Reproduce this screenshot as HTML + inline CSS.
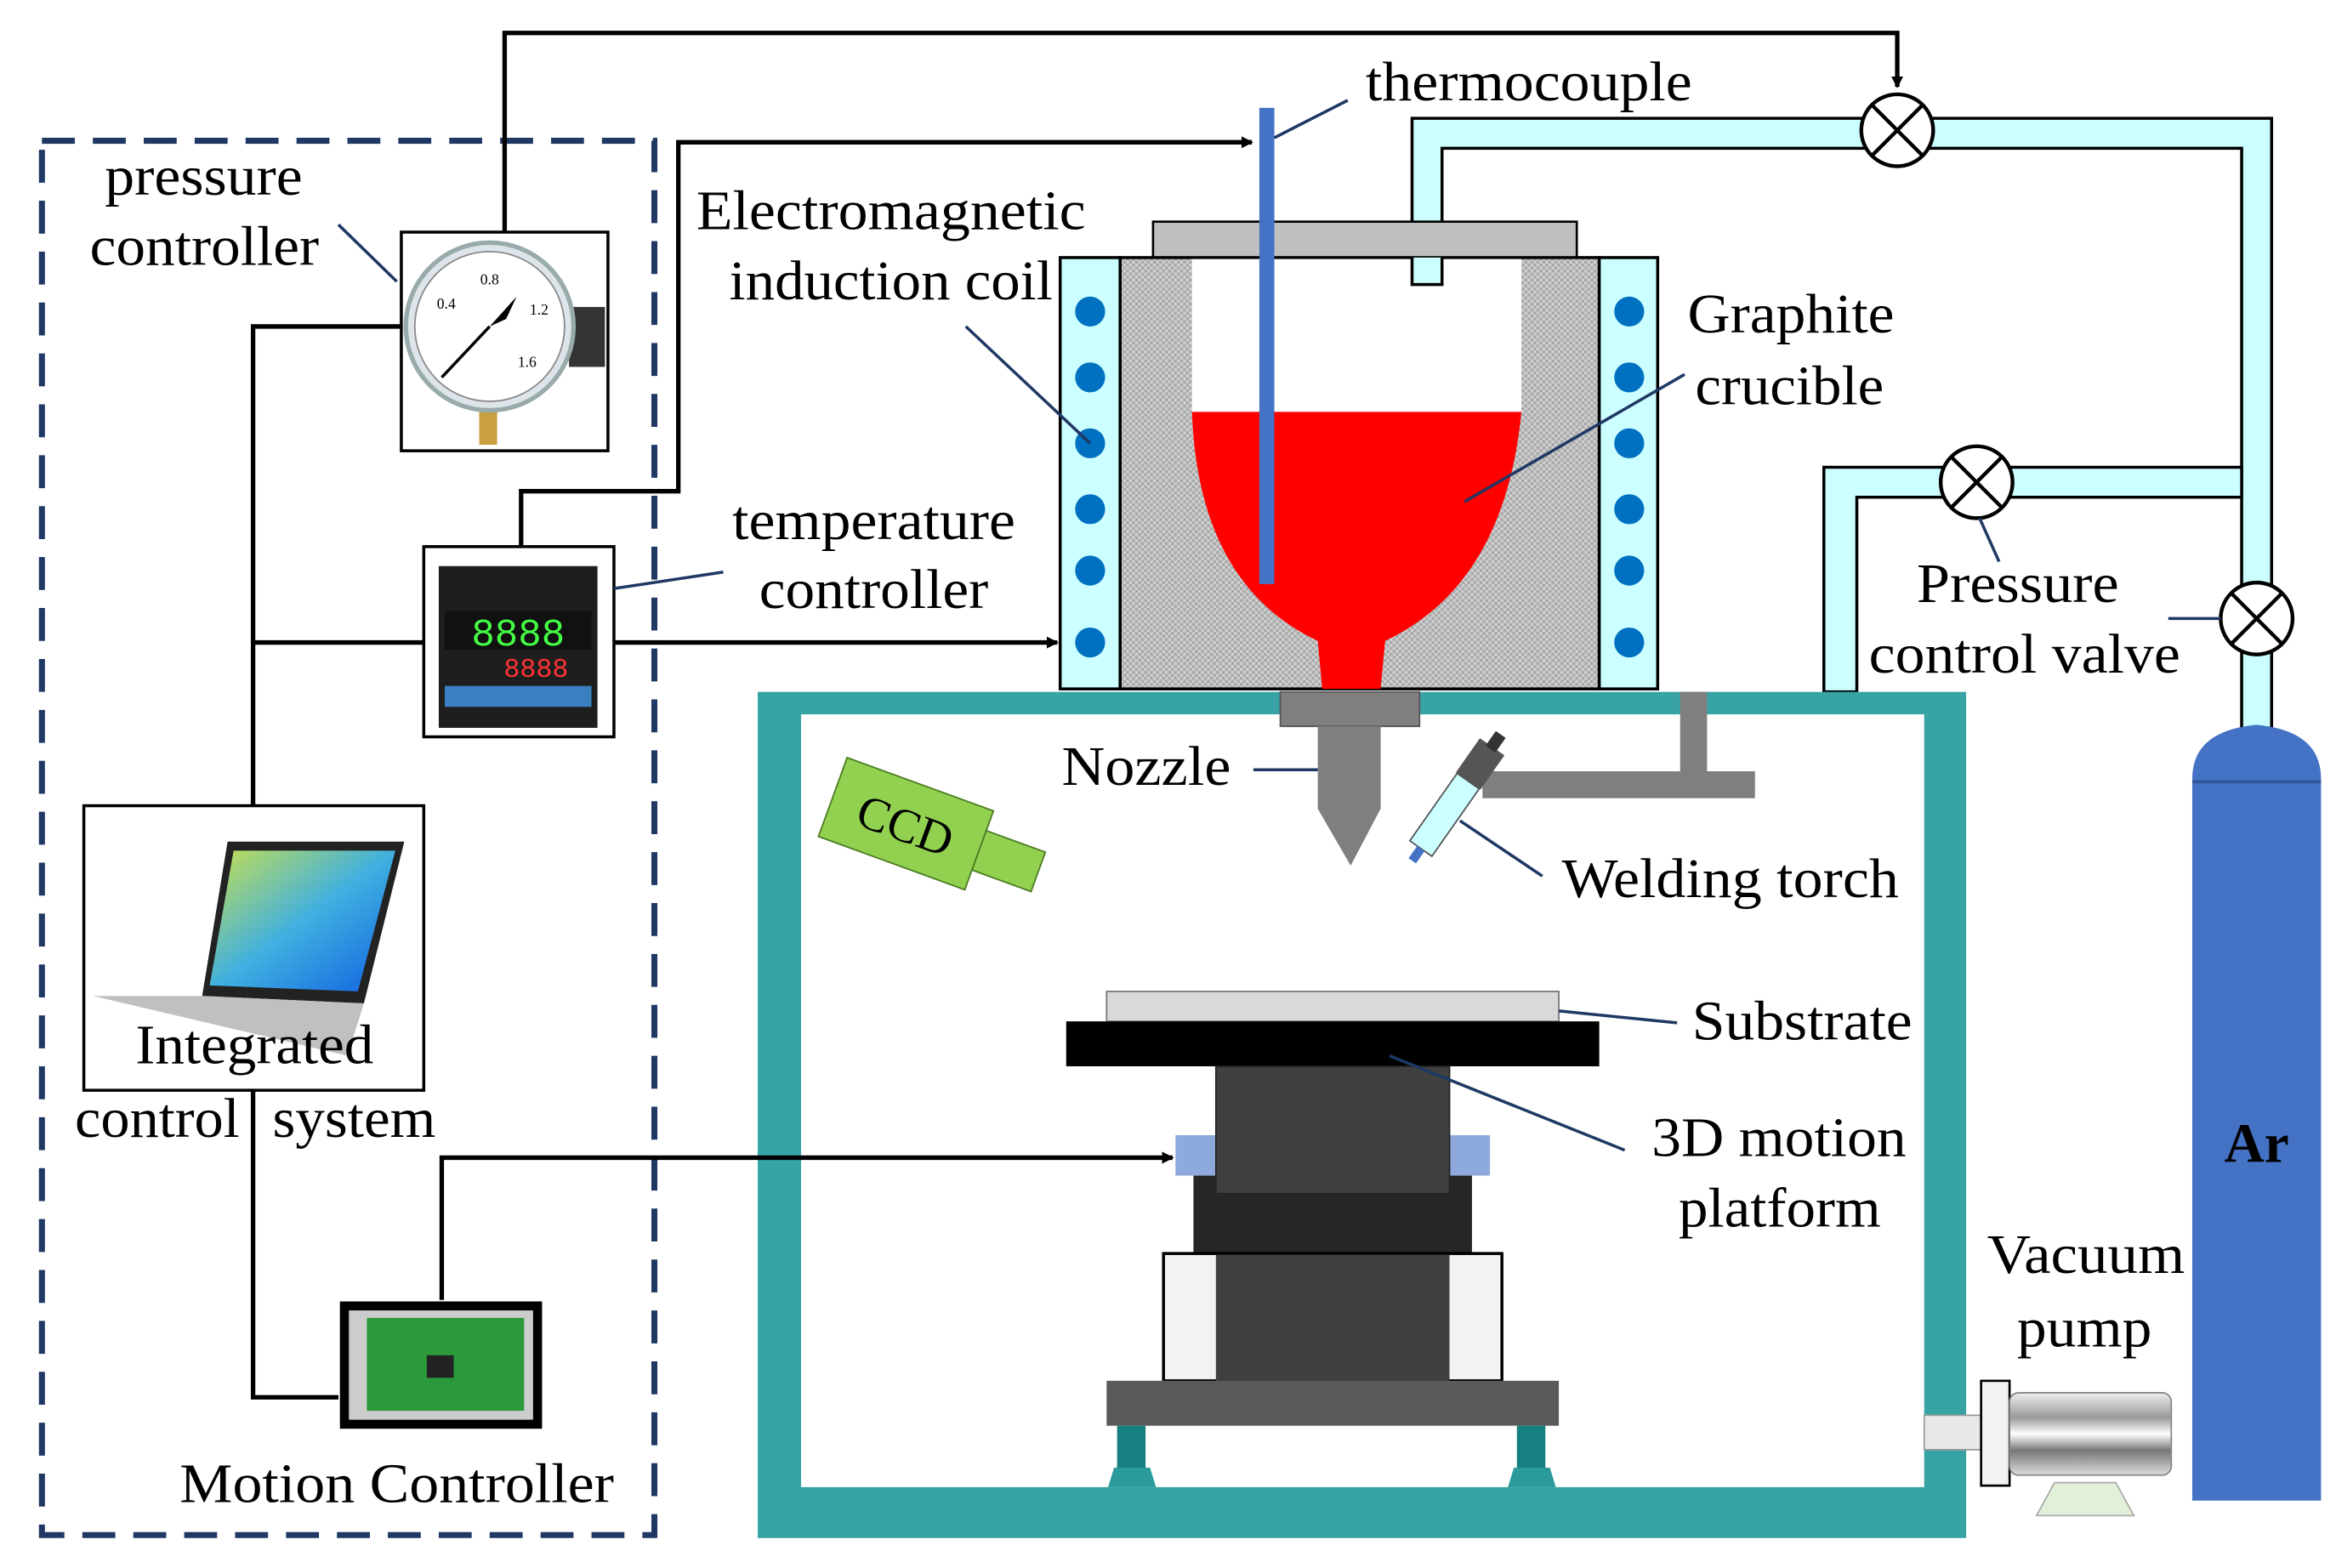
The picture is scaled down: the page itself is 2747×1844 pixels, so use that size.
<!DOCTYPE html>
<html><head><meta charset="utf-8"><style>
html,body{margin:0;padding:0;background:#fff;}
svg{display:block;}
text{font-family:"Liberation Serif",serif;font-size:37px;fill:#000;}
</style></head><body>
<svg width="2747" height="1844" viewBox="0 0 1560 1047" preserveAspectRatio="none" xmlns="http://www.w3.org/2000/svg">
<defs>
<pattern id="hat" width="4" height="4" patternUnits="userSpaceOnUse">
<rect width="4" height="4" fill="#d0d0d0"/><rect width="2" height="2" fill="#a8a8a8"/><rect x="2" y="2" width="2" height="2" fill="#a8a8a8"/>
</pattern>
<marker id="ar" markerWidth="8" markerHeight="8" refX="7" refY="4" orient="auto" markerUnits="userSpaceOnUse" viewBox="0 0 8 8"><path d="M0,0 L8,4 L0,8z" fill="#000"/></marker>
<linearGradient id="scr" x1="0" y1="0" x2="1" y2="1"><stop offset="0" stop-color="#c8e050"/><stop offset="0.5" stop-color="#40b0e0"/><stop offset="1" stop-color="#1060e0"/></linearGradient>
<linearGradient id="pump" x1="0" y1="0" x2="0" y2="1"><stop offset="0" stop-color="#eee"/><stop offset="0.3" stop-color="#999"/><stop offset="0.5" stop-color="#fff"/><stop offset="0.7" stop-color="#777"/><stop offset="1" stop-color="#ddd"/></linearGradient>
</defs>

<rect x="28" y="94" width="409" height="931" fill="none" stroke="#1f3864" stroke-width="4" stroke-dasharray="22,12"/>

<g fill="none" stroke="#000" stroke-width="3">
<polyline points="337,155 337,22 1267,22 1267,58" marker-end="url(#ar)"/>
<polyline points="348,365 348,328 453,328 453,95 836,95" marker-end="url(#ar)"/>
<polyline points="268,218 169,218 169,538"/>
<line x1="169" y1="429" x2="283" y2="429"/>
<line x1="410" y1="429" x2="706" y2="429" marker-end="url(#ar)"/>
<polyline points="169,728 169,933 226,933"/>
</g>

<rect x="268" y="155" width="138" height="146" fill="#fff" stroke="#000" stroke-width="2"/>
<rect x="380" y="205" width="24" height="40" fill="#333"/>
<rect x="320" y="272" width="12" height="25" fill="#c8a040"/>
<circle cx="327" cy="218" r="56" fill="#dde4ea" stroke="#9aa" stroke-width="3"/>
<circle cx="327" cy="218" r="50" fill="#fff" stroke="#888" stroke-width="1"/>
<line x1="327" y1="218" x2="295" y2="252" stroke="#000" stroke-width="2"/>
<path d="M327,218 L345,198 L338,213z" fill="#000"/>
<text x="327" y="190" text-anchor="middle" style="font-size:10px">0.8</text>
<text x="298" y="206" text-anchor="middle" style="font-size:10px">0.4</text>
<text x="360" y="210" text-anchor="middle" style="font-size:10px">1.2</text>
<text x="352" y="245" text-anchor="middle" style="font-size:10px">1.6</text>

<rect x="283" y="365" width="127" height="127" fill="#fff" stroke="#000" stroke-width="2"/>
<rect x="293" y="378" width="106" height="108" fill="#1e1e1e"/>
<rect x="297" y="408" width="98" height="26" fill="#111"/>
<text x="346" y="431" text-anchor="middle" style="font-size:26px;fill:#4f4;font-family:'Liberation Mono',monospace">8888</text>
<text x="358" y="452" text-anchor="middle" style="font-size:18px;fill:#f33;font-family:'Liberation Mono',monospace">8888</text>
<rect x="297" y="458" width="98" height="14" fill="#3a7fc0"/>

<rect x="56" y="538" width="227" height="190" fill="#fff" stroke="#000" stroke-width="2"/>
<path d="M152,562 L270,562 L243,670 L135,665z" fill="#222"/>
<path d="M156,568 L264,568 L239,662 L140,658z" fill="url(#scr)"/>
<path d="M135,665 L243,670 L232,705 L62,665z" fill="#c0c0c0"/>
<text x="170" y="710" text-anchor="middle" textLength="159" lengthAdjust="spacingAndGlyphs">Integrated</text>
<text x="50" y="759" textLength="110" lengthAdjust="spacingAndGlyphs">control</text>
<text x="182" y="759" textLength="109" lengthAdjust="spacingAndGlyphs">system</text>

<rect x="227" y="869" width="135" height="85" fill="#000"/>
<rect x="233" y="875" width="123" height="73" fill="#ccc"/>
<rect x="245" y="880" width="105" height="62" fill="#2a9a3a"/>
<rect x="285" y="905" width="18" height="15" fill="#222"/>
<text x="120" y="1003" textLength="290" lengthAdjust="spacingAndGlyphs">Motion Controller</text>

<g fill="#ccffff" stroke="#000" stroke-width="2">
<path d="M943,190 L943,79 L1517,79 L1517,495 L1497,495 L1497,99 L963,99 L963,190z"/>
<path d="M1218,462 L1218,312 L1497,312 L1497,332 L1240,332 L1240,462z"/>
</g>

<path d="M1464,1002 L1464,520 Q1464,488 1507,484 Q1550,488 1550,520 L1550,1002z" fill="#4472c4"/>
<line x1="1464" y1="522" x2="1550" y2="522" stroke="#2f5597" stroke-width="2"/>
<text x="1507" y="776" text-anchor="middle" style="font-weight:bold">Ar</text>

<g fill="#fff" stroke="#000" stroke-width="2.5">
<circle cx="1267" cy="87" r="24"/><path d="M1250,70 L1284,104 M1284,70 L1250,104"/>
<circle cx="1320" cy="322" r="24"/><path d="M1303,305 L1337,339 M1337,305 L1303,339"/>
<circle cx="1507" cy="413" r="24"/><path d="M1490,396 L1524,430 M1524,396 L1490,430"/>
</g>

<rect x="506" y="462" width="807" height="565" fill="#38a3a5"/>
<rect x="535" y="477" width="750" height="516" fill="#fff"/>

<rect x="770" y="148" width="283" height="24" fill="#bfbfbf" stroke="#000" stroke-width="1.5"/>
<rect x="748" y="172" width="320" height="288" fill="url(#hat)" stroke="#000" stroke-width="2"/>
<rect x="796" y="173" width="220" height="102" fill="#fff"/>
<path d="M943,172 L943,190 L963,190 L963,172" fill="#ccffff" stroke="#000" stroke-width="2"/>
<path d="M796,275 L1016,275 Q1005,390 925,428 L922,460 L883,460 L880,428 Q800,390 796,275z" fill="#ff0000"/>
<rect x="708" y="172" width="40" height="288" fill="#ccffff" stroke="#000" stroke-width="2"/>
<rect x="1068" y="172" width="39" height="288" fill="#ccffff" stroke="#000" stroke-width="2"/>
<g fill="#0070c0">
<circle cx="728" cy="208" r="10"/><circle cx="728" cy="252" r="10"/><circle cx="728" cy="296" r="10"/><circle cx="728" cy="340" r="10"/><circle cx="728" cy="381" r="10"/><circle cx="728" cy="429" r="10"/>
<circle cx="1088" cy="208" r="10"/><circle cx="1088" cy="252" r="10"/><circle cx="1088" cy="296" r="10"/><circle cx="1088" cy="340" r="10"/><circle cx="1088" cy="381" r="10"/><circle cx="1088" cy="429" r="10"/>
</g>
<rect x="841" y="72" width="10" height="318" fill="#4472c4"/>

<rect x="855" y="462" width="93" height="23" fill="#7f7f7f" stroke="#555" stroke-width="1"/>
<rect x="880" y="485" width="42" height="55" fill="#7f7f7f"/>
<path d="M880,540 L922,540 L902,578z" fill="#7f7f7f"/>
<rect x="1122" y="462" width="18" height="55" fill="#7f7f7f"/>
<rect x="990" y="515" width="182" height="18" fill="#7f7f7f"/>
<g transform="translate(985,515) rotate(35)">
<rect x="-10" y="-20" width="20" height="28" fill="#555"/>
<rect x="-4" y="-30" width="8" height="12" fill="#333"/>
<rect x="-9" y="8" width="18" height="55" fill="#ccffff" stroke="#555" stroke-width="1"/>
<rect x="-3" y="63" width="6" height="10" fill="#4472c4"/>
</g>

<g transform="translate(605,550) rotate(20)">
<rect x="-52" y="-28" width="104" height="56" fill="#92d050" stroke="#4a7a20" stroke-width="1"/>
<rect x="52" y="-14" width="42" height="28" fill="#92d050" stroke="#4a7a20" stroke-width="1"/>
<text x="0" y="12" text-anchor="middle" style="font-size:32px">CCD</text>
</g>

<rect x="739" y="662" width="302" height="20" fill="#d9d9d9" stroke="#777" stroke-width="1"/>
<rect x="712" y="682" width="356" height="30" fill="#000"/>
<rect x="785" y="758" width="210" height="27" fill="#8ea9db"/>
<rect x="797" y="785" width="186" height="52" fill="#262626"/>
<rect x="812" y="712" width="156" height="85" fill="#404040" stroke="#222" stroke-width="1"/>
<rect x="777" y="837" width="226" height="85" fill="#f2f2f2" stroke="#000" stroke-width="2"/>
<rect x="812" y="838" width="156" height="84" fill="#404040"/>
<rect x="739" y="922" width="302" height="30" fill="#595959"/>
<rect x="746" y="952" width="19" height="33" fill="#168080"/>
<rect x="1013" y="952" width="19" height="33" fill="#168080"/>
<path d="M740,993 L744,980 L768,980 L772,993z" fill="#2a9a9a"/>
<path d="M1007,993 L1011,980 L1035,980 L1039,993z" fill="#2a9a9a"/>

<polyline points="295,868 295,773 783,773" fill="none" stroke="#000" stroke-width="3" marker-end="url(#ar)"/>

<rect x="1285" y="945" width="40" height="23" fill="#e8e8e8" stroke="#999" stroke-width="1"/>
<rect x="1323" y="922" width="19" height="70" fill="#f2f2f2" stroke="#000" stroke-width="1.5"/>
<rect x="1342" y="930" width="108" height="55" rx="6" fill="url(#pump)" stroke="#888" stroke-width="1"/>
<path d="M1372,990 L1413,990 L1425,1012 L1360,1012z" fill="#e2f0d9" stroke="#aaa" stroke-width="1"/>

<g stroke="#1f3864" stroke-width="2" fill="none">
<line x1="226" y1="150" x2="265" y2="188"/>
<line x1="645" y1="218" x2="728" y2="296"/>
<line x1="851" y1="92" x2="900" y2="67"/>
<line x1="1125" y1="250" x2="978" y2="335"/>
<line x1="410" y1="393" x2="483" y2="382"/>
<line x1="837" y1="514" x2="880" y2="514"/>
<line x1="1030" y1="585" x2="975" y2="548"/>
<line x1="1041" y1="675" x2="1120" y2="683"/>
<line x1="928" y1="705" x2="1085" y2="768"/>
<line x1="1322" y1="346" x2="1335" y2="375"/>
<line x1="1448" y1="413" x2="1483" y2="413"/>
</g>

<text x="70" y="130" textLength="132" lengthAdjust="spacingAndGlyphs">pressure</text>
<text x="60" y="177" textLength="153" lengthAdjust="spacingAndGlyphs">controller</text>
<text x="465" y="153" textLength="260" lengthAdjust="spacingAndGlyphs">Electromagnetic</text>
<text x="487" y="200" textLength="216" lengthAdjust="spacingAndGlyphs">induction coil</text>
<text x="912" y="67" textLength="218" lengthAdjust="spacingAndGlyphs">thermocouple</text>
<text x="1127" y="222" textLength="138" lengthAdjust="spacingAndGlyphs">Graphite</text>
<text x="1132" y="270" textLength="126" lengthAdjust="spacingAndGlyphs">crucible</text>
<text x="489" y="360" textLength="189" lengthAdjust="spacingAndGlyphs">temperature</text>
<text x="507" y="406" textLength="153" lengthAdjust="spacingAndGlyphs">controller</text>
<text x="709" y="524" textLength="113" lengthAdjust="spacingAndGlyphs">Nozzle</text>
<text x="1043" y="599" textLength="225" lengthAdjust="spacingAndGlyphs">Welding torch</text>
<text x="1130" y="694" textLength="147" lengthAdjust="spacingAndGlyphs">Substrate</text>
<text x="1103" y="772" textLength="170" lengthAdjust="spacingAndGlyphs">3D motion</text>
<text x="1121" y="819" textLength="135" lengthAdjust="spacingAndGlyphs">platform</text>
<text x="1280" y="402" textLength="135" lengthAdjust="spacingAndGlyphs">Pressure</text>
<text x="1248" y="449" textLength="208" lengthAdjust="spacingAndGlyphs">control valve</text>
<text x="1327" y="850" textLength="132" lengthAdjust="spacingAndGlyphs">Vacuum</text>
<text x="1347" y="899" textLength="90" lengthAdjust="spacingAndGlyphs">pump</text>
</svg>
</body></html>
